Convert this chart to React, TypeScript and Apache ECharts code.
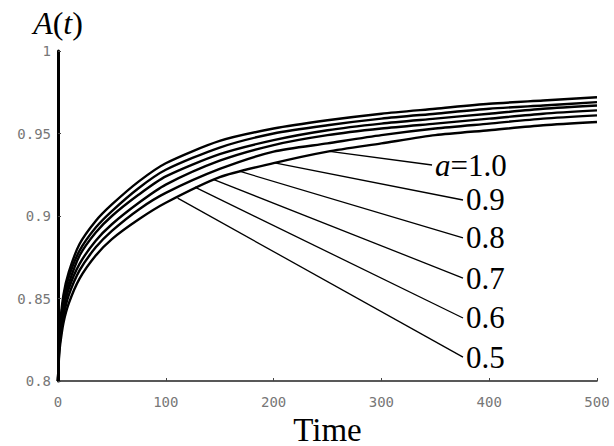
import React, { useEffect, useRef } from "react";
import * as echarts from "echarts";

const T = [0, 1, 2, 5, 10, 20, 35, 50, 75, 100, 150, 200, 250, 300, 350, 400, 450, 500];
const A10 = [0.8, 0.825, 0.835, 0.852, 0.866, 0.883, 0.897, 0.907, 0.921, 0.932, 0.9455, 0.953, 0.958, 0.962, 0.965, 0.968, 0.97, 0.972];
const A09 = [0.8, 0.823, 0.833, 0.849, 0.863, 0.879, 0.893, 0.903, 0.917, 0.928, 0.9415, 0.95, 0.955, 0.959, 0.962, 0.965, 0.967, 0.969];
const A08 = [0.8, 0.822, 0.83, 0.846, 0.859, 0.876, 0.89, 0.9, 0.913, 0.924, 0.9375, 0.946, 0.952, 0.956, 0.959, 0.962, 0.965, 0.967];
const A07 = [0.8, 0.82, 0.828, 0.843, 0.856, 0.871, 0.885, 0.895, 0.908, 0.919, 0.9335, 0.943, 0.949, 0.953, 0.956, 0.959, 0.962, 0.964];
const A06 = [0.8, 0.817, 0.825, 0.839, 0.852, 0.867, 0.881, 0.891, 0.904, 0.914, 0.9285, 0.939, 0.944, 0.949, 0.953, 0.956, 0.959, 0.961];
const A05 = [0.8, 0.815, 0.822, 0.835, 0.847, 0.862, 0.876, 0.886, 0.898, 0.908, 0.9235, 0.932, 0.939, 0.944, 0.949, 0.952, 0.955, 0.957];

const CURVES = [A10, A09, A08, A07, A06, A05];
const CURVE_NAMES = ["a=1.0", "a=0.9", "a=0.8", "a=0.7", "a=0.6", "a=0.5"];

// leader lines: [curve end (t, A)], [label end (t, A)]
const LABELS = ["{i|a}=1.0", "0.9", "0.8", "0.7", "0.6", "0.5"];
const LEADER_FROM: [number, number][] = [
  [252, 0.9392],
  [201, 0.9322],
  [169, 0.927],
  [144, 0.9222],
  [127, 0.9175],
  [111, 0.9108],
];
const LEADER_TO: [number, number][] = [
  [347, 0.9309],
  [375.7, 0.9097],
  [375.7, 0.8867],
  [375.7, 0.8624],
  [375.7, 0.8382],
  [375.7, 0.8145],
];

const X_TICKS = [0, 100, 200, 300, 400, 500];
const Y_TICKS = [0.8, 0.85, 0.9, 0.95, 1];

export default function App() {
  const ref = useRef<HTMLDivElement>(null);
  useEffect(() => {
    if (!ref.current) return;
    const chart = echarts.init(ref.current, undefined, { renderer: "svg" });
    const serif = "'Liberation Serif', 'Times New Roman', serif";
    const mono = "'DejaVu Sans Mono', monospace";
    const series: any[] = [];
    CURVES.forEach((c, i) => {
      series.push({
        type: "line",
        name: CURVE_NAMES[i],
        data: T.map((t, j) => [t, c[j]]),
        showSymbol: false,
        symbol: "none",
        smooth: 0.25,
        lineStyle: { color: "#000", width: 2.4, join: "round" },
        z: 3,
      });
    });
    LABELS.forEach((lab, i) => {
      series.push({
        type: "line",
        data: [LEADER_FROM[i], LEADER_TO[i]],
        showSymbol: false,
        symbol: "none",
        lineStyle: { color: "#000", width: 1.3 },
        z: 2,
        endLabel: {
          show: true,
          formatter: lab,
          distance: 3,
          color: "#000",
          fontFamily: serif,
          fontSize: 31,
          rich: {
            i: { fontStyle: "italic", fontFamily: serif, fontSize: 31, color: "#000" },
          },
        },
      });
    });
    chart.setOption({
      animation: false,
      backgroundColor: "#fff",
      grid: { left: 58, right: 17, top: 51, bottom: 65, containLabel: false, outerBoundsMode: "none" },
      xAxis: {
        type: "value",
        min: 0,
        max: 500,
        interval: 100,
        name: "Time",
        nameLocation: "middle",
        nameGap: 26,
        nameTextStyle: { fontFamily: serif, fontSize: 33, color: "#000", lineHeight: 33 },
        axisLine: { show: true, lineStyle: { color: "#222", width: 1.6 } },
        axisTick: { show: true, inside: true, length: 3, lineStyle: { color: "#444" } },
        axisLabel: {
          margin: 14,
          fontFamily: mono,
          fontSize: 14,
          color: "#777",
          formatter: (v: number) => (X_TICKS.includes(v) ? String(v) : ""),
        },
        splitLine: { show: false },
      },
      yAxis: {
        type: "value",
        min: 0.8,
        max: 1,
        interval: 0.05,
        name: "{i|A}({i|t})",
        nameLocation: "end",
        nameGap: 12,
        nameTextStyle: {
          fontFamily: serif,
          fontSize: 32,
          color: "#000",
          align: "center",
          rich: { i: { fontStyle: "italic", fontFamily: serif, fontSize: 32, color: "#000" } },
        },
        axisLine: { show: true, lineStyle: { color: "#000", width: 3 } },
        axisTick: { show: true, inside: true, length: 3, lineStyle: { color: "#444" } },
        axisLabel: {
          margin: 7,
          fontFamily: mono,
          fontSize: 14,
          color: "#777",
          formatter: (v: number) => {
            const r = Math.round(v * 100) / 100;
            return Y_TICKS.some((y) => Math.abs(y - r) < 1e-9) ? String(r) : "";
          },
        },
        splitLine: { show: false },
      },
      series,
    });
    return () => chart.dispose();
  }, []);
  return <div ref={ref} style={{ width: 614, height: 446, position: "absolute", left: 0, top: 0 }} />;
}
